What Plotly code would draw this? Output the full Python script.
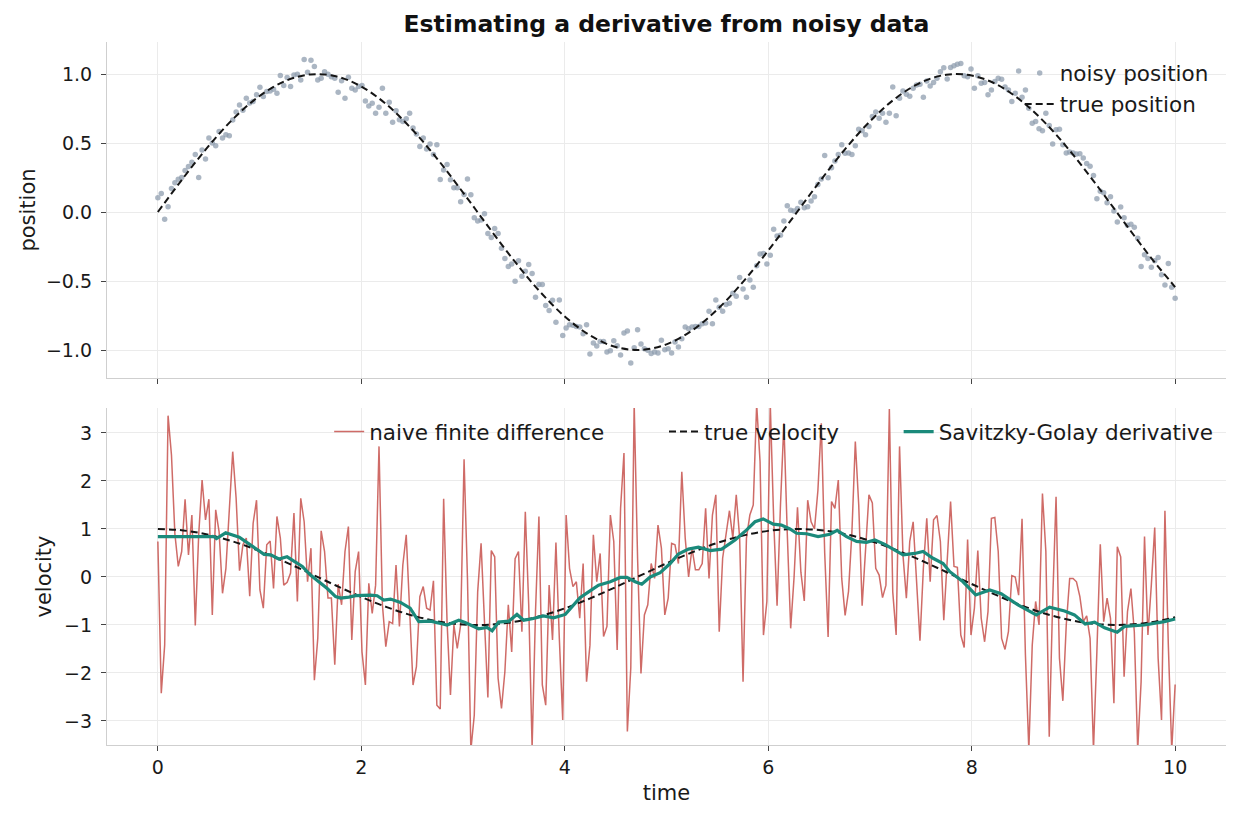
import numpy as np
import plotly.graph_objects as go
from plotly.subplots import make_subplots

# ---------------- data ----------------
N_SAMPLES = 300
t = np.linspace(0, 10, N_SAMPLES)

noisy_position = [
    0.103, 0.135, -0.053, 0.038, 0.171, 0.212, 0.238, 0.25, 0.30, 0.33,
    0.36, 0.416, 0.25, 0.45, 0.385, 0.536, 0.50, 0.48, 0.584, 0.536,
    0.56, 0.553, 0.666, 0.724, 0.776, 0.738, 0.825, 0.79, 0.80, 0.85,
    0.904, 0.837, 0.873, 0.877, 0.89, 0.86, 0.99, 0.916, 0.974, 0.91,
    0.993, 0.998, 0.957, 1.106, 1.012, 1.10, 1.055, 0.957, 0.969, 1.017,
    0.998, 0.98, 0.969, 0.868, 0.952, 0.825, 0.976, 0.897, 0.885, 0.909,
    0.916, 0.805, 0.769, 0.788, 0.716, 0.76, 0.897, 0.716, 0.796, 0.651,
    0.733, 0.668, 0.656, 0.675, 0.716, 0.608, 0.565, 0.474, 0.536, 0.457,
    0.493, 0.416, 0.488, 0.236, 0.305, 0.344, 0.233, 0.175, 0.175, 0.075,
    0.127, 0.24, 0.125, -0.041, -0.065, -0.058, -0.012, -0.156, -0.185, -0.12,
    -0.156, -0.262, -0.337, -0.394, -0.377, -0.502, -0.353, -0.466, -0.43, -0.38,
    -0.445, -0.618, -0.526, -0.526, -0.678, -0.714, -0.64, -0.798, -0.637, -0.894,
    -0.841, -0.817, -0.82, -0.829, -0.834, -0.882, -0.817, -1.029, -0.95, -0.971,
    -0.938, -0.938, -1.014, -1.005, -0.933, -0.969, -1.036, -0.877, -0.863, -1.094,
    -0.983, -0.853, -0.957, -0.99, -1.002, -1.026, -1.014, -1.022, -0.93, -0.998,
    -0.99, -1.022, -0.942, -0.978, -0.918, -0.834, -0.846, -0.834, -0.829, -0.829,
    -0.81, -0.805, -0.719, -0.81, -0.637, -0.69, -0.719, -0.671, -0.661, -0.589,
    -0.611, -0.474, -0.558, -0.618, -0.493, -0.546, -0.389, -0.305, -0.30, -0.377,
    -0.313, -0.125, -0.173, -0.168, -0.065, 0.046, 0.012, 0.007, 0.026, 0.07,
    0.031, 0.038, 0.08, 0.111, 0.2, 0.24, 0.409, 0.248, 0.32, 0.37,
    0.416, 0.488, 0.425, 0.428, 0.416, 0.481, 0.60, 0.589, 0.56, 0.62,
    0.692, 0.724, 0.68, 0.716, 0.651, 0.716, 0.906, 0.697, 0.824, 0.877,
    0.853, 0.839, 0.897, 0.92, 0.925, 0.832, 0.95, 0.913, 0.938, 0.969,
    1.017, 1.046, 0.964, 1.048, 1.06, 1.07, 1.077, 0.988, 0.981, 1.036,
    0.897, 0.988, 0.933, 0.938, 0.849, 0.885, 0.945, 0.969, 0.962, 0.906,
    0.885, 0.80, 0.861, 1.022, 0.832, 0.885, 0.752, 0.644, 0.656, 0.603,
    0.589, 0.716, 0.627, 0.493, 0.596, 0.60, 0.488, 0.428, 0.435, 0.428,
    0.421, 0.423, 0.392, 0.351, 0.332, 0.264, 0.096, 0.151, 0.139, 0.067,
    0.111, 0.007, -0.072, 0.036, -0.041, -0.096, -0.089, -0.111, -0.19, -0.394,
    -0.31, -0.337, -0.401, -0.353, -0.329, -0.454, -0.529, -0.373, -0.546, -0.625,
]

naive_difference = [
    0.74, -2.42, -1.42, 3.36, 2.54, 0.9, 0.22, 0.53, 1.62, 0.46,
    1.29, -1.01, 0.88, 2.02, 1.19, 1.62, -0.79, 1.40, 0.94, -0.34,
    0.18, 1.5, 2.61, 1.64, 0.13, 0.67, 0.81, -0.40, 1.12, 1.60,
    -0.27, -0.65, 0.67, 0.75, -0.24, 1.26, 0.81, -0.17, -0.11, 0.08,
    1.33, -0.51, 1.64, 1.15, -0.10, 0.60, -2.15, -1.28, 0.96, 0.53,
    -0.44, -0.44, -1.83, -0.15, -0.58, 0.53, 1.05, -1.31, 0.11, 0.53,
    -1.56, -2.25, -0.13, -0.76, -0.17, 2.72, -0.58, -1.45, -0.93, -0.97,
    0.25, -1.03, 0.25, 0.88, -0.72, -2.25, -1.87, -0.41, -0.20, -0.65,
    -0.69, -0.08, -2.67, -2.75, 1.63, -0.93, -2.46, -1.0, -1.49, -1.0,
    2.45, -0.03, -3.6, -2.88, -0.31, 0.70, -0.93, -2.51, 0.55, 0.42,
    -2.11, -2.74, -1.97, -0.58, -1.56, 0.38, 0.53, -1.14, 1.36, -0.58,
    -3.55, -0.72, 1.26, -2.25, -2.67, -0.17, -1.31, 0.72, -1.28, -2.98,
    1.29, 0.18, -0.20, -0.10, -0.86, 0.28, -2.18, -1.42, 0.88, -0.10,
    0.49, -1.24, -1.03, 1.29, 0.74, -1.52, 1.43, 2.58, -3.22, -1.90,
    3.6, 0.39, -2.01, -0.79, -0.58, 0.28, -0.03, 1.08, 0.60, -0.79,
    -0.44, 0.70, 0.67, 0.28, 2.19, 0.81, 0.0, 0.60, 0.15, 0.15,
    0.28, 1.43, -0.03, 1.29, 1.71, -1.14, 0.39, 0.94, 1.38, 0.81,
    1.71, 0.81, -2.18, 0.81, 1.29, 1.5, 3.6, 2.4, -1.21, -0.51,
    3.6, 1.2, -0.6, 1.5, 3.2, 0.9, -1.07, 0.0, 1.45, 0.1,
    -0.5, 1.6, 1.15, 1.0, 1.8, 3.2, 0.5, -1.25, 1.57, 1.43,
    2.02, -0.03, -0.8, -0.3, 0.94, 2.82, 1.5, -0.6, 0.53, 1.71,
    1.54, 0.18, 0.04, -0.43, -0.17, 3.5, -0.31, -1.21, 2.72, 0.46,
    -0.44, 0.74, 1.15, -0.1, -1.33, 0.18, 1.22, -0.1, 1.19, 1.28,
    0.74, -0.9, 0.39, 1.57, 0.22, 0.2, -1.21, -1.47, 0.78, -1.21,
    -0.65, 0.55, -0.86, -1.35, -0.72, 1.22, 1.24, 0.53, -1.28, -1.51,
    -1.14, 0.03, 0.0, -0.38, 1.21, -1.63, -3.6, -1.42, -0.51, -1.0,
    1.74, 0.53, -3.33, -0.51, 1.67, -1.69, -2.58, -1.0, -0.03, -0.03,
    -0.1, -0.41, -0.93, -0.81, -1.28, -3.6, -1.56, 0.68, -0.93, -0.44,
    -0.86, -2.63, 0.63, 0.42, -2.08, -0.72, -0.24, -1.14, -3.6, -2.18,
    0.84, -1.21, -0.17, 1.03, -1.69, -2.98, 1.38, -1.42, -3.6, -2.24,
]

curve_t = [0.0, 0.25, 0.5, 0.75, 1.0, 1.25, 1.5, 1.75, 2.0, 2.25, 2.5, 2.75,
           3.0, 3.25, 3.5, 3.75, 4.0, 4.25, 4.5, 4.75, 5.0, 5.25, 5.5, 5.75,
           6.0, 6.25, 6.5, 6.75, 7.0, 7.25, 7.5, 7.75, 8.0, 8.25, 8.5, 8.75,
           9.0, 9.25, 9.5, 9.75, 10.0]
true_position = [0.0, 0.247, 0.479, 0.682, 0.841, 0.949, 0.997, 0.984, 0.909,
                 0.778, 0.598, 0.382, 0.141, -0.108, -0.351, -0.572, -0.757,
                 -0.895, -0.978, -0.999, -0.959, -0.859, -0.706, -0.508, -0.279,
                 -0.033, 0.215, 0.451, 0.657, 0.823, 0.938, 0.995, 0.989, 0.923,
                 0.798, 0.625, 0.412, 0.174, -0.075, -0.319, -0.544]
true_velocity = [1.0, 0.969, 0.878, 0.732, 0.540, 0.315, 0.071, -0.178, -0.416,
                 -0.628, -0.801, -0.924, -0.990, -0.994, -0.936, -0.820, -0.654,
                 -0.446, -0.211, 0.037, 0.284, 0.512, 0.709, 0.861, 0.960, 0.999,
                 0.977, 0.897, 0.754, 0.568, 0.347, 0.103, -0.146, -0.385, -0.602,
                 -0.782, -0.911, -0.985, -0.997, -0.948, -0.839]

sg_t = [0.00, 0.10, 0.20, 0.30, 0.40, 0.553, 0.576, 0.667, 0.80, 0.864, 0.962,
        1.044, 1.109, 1.19, 1.27, 1.34, 1.42, 1.50, 1.58, 1.665, 1.747, 1.796,
        1.878, 1.944, 2.09, 2.156, 2.22, 2.287, 2.385, 2.48, 2.565, 2.68, 2.78,
        2.843, 2.958, 3.02, 3.154, 3.236, 3.286, 3.35, 3.45, 3.53, 3.596, 3.68,
        3.79, 3.89, 4.005, 4.07, 4.15, 4.234, 4.332, 4.447, 4.545, 4.61, 4.692,
        4.757, 4.84, 4.938, 5.036, 5.117, 5.216, 5.314, 5.43, 5.543, 5.674,
        5.788, 5.87, 5.95, 6.05, 6.13, 6.213, 6.279, 6.377, 6.49, 6.606, 6.678,
        6.77, 6.868, 6.966, 7.048, 7.146, 7.244, 7.326, 7.44, 7.522, 7.62,
        7.719, 7.785, 7.915, 8.04, 8.177, 8.29, 8.455, 8.635, 8.766, 8.913,
        9.01, 9.116, 9.208, 9.306, 9.43, 9.502, 9.698, 9.895, 10.0]
sg_derivative = [0.84, 0.84, 0.84, 0.84, 0.84, 0.84, 0.80, 0.92, 0.83, 0.74,
                 0.60, 0.47, 0.46, 0.375, 0.42, 0.32, 0.22, 0.04, -0.10, -0.24,
                 -0.41, -0.44, -0.42, -0.39, -0.38, -0.39, -0.48, -0.46, -0.53,
                 -0.65, -0.93, -0.92, -0.97, -1.0, -0.90, -0.95, -1.08, -1.05,
                 -1.12, -0.94, -0.92, -0.78, -0.90, -0.87, -0.81, -0.85, -0.78,
                 -0.62, -0.43, -0.31, -0.17, -0.10, -0.01, -0.01, -0.10, -0.15,
                 0.0, 0.09, 0.28, 0.48, 0.58, 0.62, 0.55, 0.58, 0.77, 0.98, 1.15,
                 1.21, 1.10, 1.08, 1.0, 0.91, 0.90, 0.84, 0.89, 0.97, 0.84, 0.74,
                 0.72, 0.77, 0.68, 0.56, 0.46, 0.49, 0.53, 0.39, 0.28, 0.11,
                 -0.10, -0.375, -0.27, -0.35, -0.58, -0.79, -0.63, -0.71, -0.79,
                 -0.98, -0.94, -1.06, -1.15, -1.03, -1.0, -0.93, -0.875]

x_ticks = [0, 2, 4, 6, 8, 10]
pos_ticks = [-1.0, -0.5, 0.0, 0.5, 1.0]
vel_ticks = [-3, -2, -1, 0, 1, 2, 3]

# ---------------- figure ----------------
FONT = "DejaVu Sans"
TXT = "#1a1a1a"
PAD = "\u00a0" * 8  # spacing between horizontal legend entries

fig = make_subplots(rows=2, cols=1, shared_xaxes=True, vertical_spacing=0.04)

fig.add_trace(go.Scatter(x=t, y=noisy_position, mode="markers", name="noisy position",
                         marker=dict(size=5.5, color="rgba(143,157,175,0.75)"),
                         legend="legend"), row=1, col=1)
fig.add_trace(go.Scatter(x=curve_t, y=true_position, mode="lines", name="true position",
                         line=dict(color="#151515", width=2, dash="7px,4px", shape="spline"),
                         legend="legend"), row=1, col=1)

fig.add_trace(go.Scatter(x=t, y=naive_difference, mode="lines",
                         name="naive finite difference" + PAD,
                         line=dict(color="rgba(197,75,70,0.82)", width=1.5),
                         legend="legend2"), row=2, col=1)
fig.add_trace(go.Scatter(x=curve_t, y=true_velocity, mode="lines", name="true velocity" + PAD,
                         line=dict(color="#151515", width=2, dash="7px,4px", shape="spline"),
                         legend="legend2"), row=2, col=1)
fig.add_trace(go.Scatter(x=sg_t, y=sg_derivative, mode="lines", name="Savitzky-Golay derivative",
                         line=dict(color="#1b8a7b", width=3.2),
                         legend="legend2"), row=2, col=1)

axis_common = dict(showgrid=True, gridcolor="#ebebeb", gridwidth=1, zeroline=False,
                   showline=True, linecolor="#cfcfcf", linewidth=1.2,
                   ticks="outside", ticklen=5, tickwidth=1, tickcolor="#444",
                   tickfont=dict(family=FONT, size=19, color=TXT))

fig.update_xaxes(**axis_common, range=[-0.5, 10.5], tickvals=x_ticks)
fig.update_xaxes(showticklabels=False, row=1, col=1)
fig.update_xaxes(title=dict(text="time", font=dict(family=FONT, size=21, color=TXT),
                            standoff=8), row=2, col=1)

fig.update_yaxes(**axis_common, ticklabelstandoff=5)
fig.update_yaxes(range=[-1.203, 1.232], tickvals=pos_ticks, tickformat=".1f",
                 domain=[0.522, 1.0],
                 title=dict(text="position", font=dict(family=FONT, size=21, color=TXT),
                            standoff=4), row=1, col=1)
fig.update_yaxes(range=[-3.5, 3.52], tickvals=vel_ticks,
                 domain=[0.0, 0.4794],
                 title=dict(text="velocity", font=dict(family=FONT, size=21, color=TXT),
                            standoff=6), row=2, col=1)

fig.update_layout(
    width=1240, height=820,
    margin=dict(l=107, r=14, t=42, b=75),
    paper_bgcolor="white", plot_bgcolor="white",
    font=dict(family=FONT, size=19, color=TXT),
    title=dict(text="<b>Estimating a derivative from noisy data</b>",
               font=dict(family=FONT, size=23.5, color="#111"),
               x=0.5, xref="paper", xanchor="center",
               y=1 - 24 / 820, yref="container", yanchor="middle"),
    legend=dict(x=0.989, xanchor="right", y=0.985, yanchor="top",
                bgcolor="rgba(255,255,255,0)", borderwidth=0,
                font=dict(family=FONT, size=21.5, color=TXT), tracegroupgap=0),
    legend2=dict(orientation="h", x=0.993, xanchor="right", y=0.475, yanchor="top",
                 bgcolor="rgba(255,255,255,0)", borderwidth=0,
                 font=dict(family=FONT, size=21.5, color=TXT)),
    showlegend=True,
)

fig.write_html("out.html")
